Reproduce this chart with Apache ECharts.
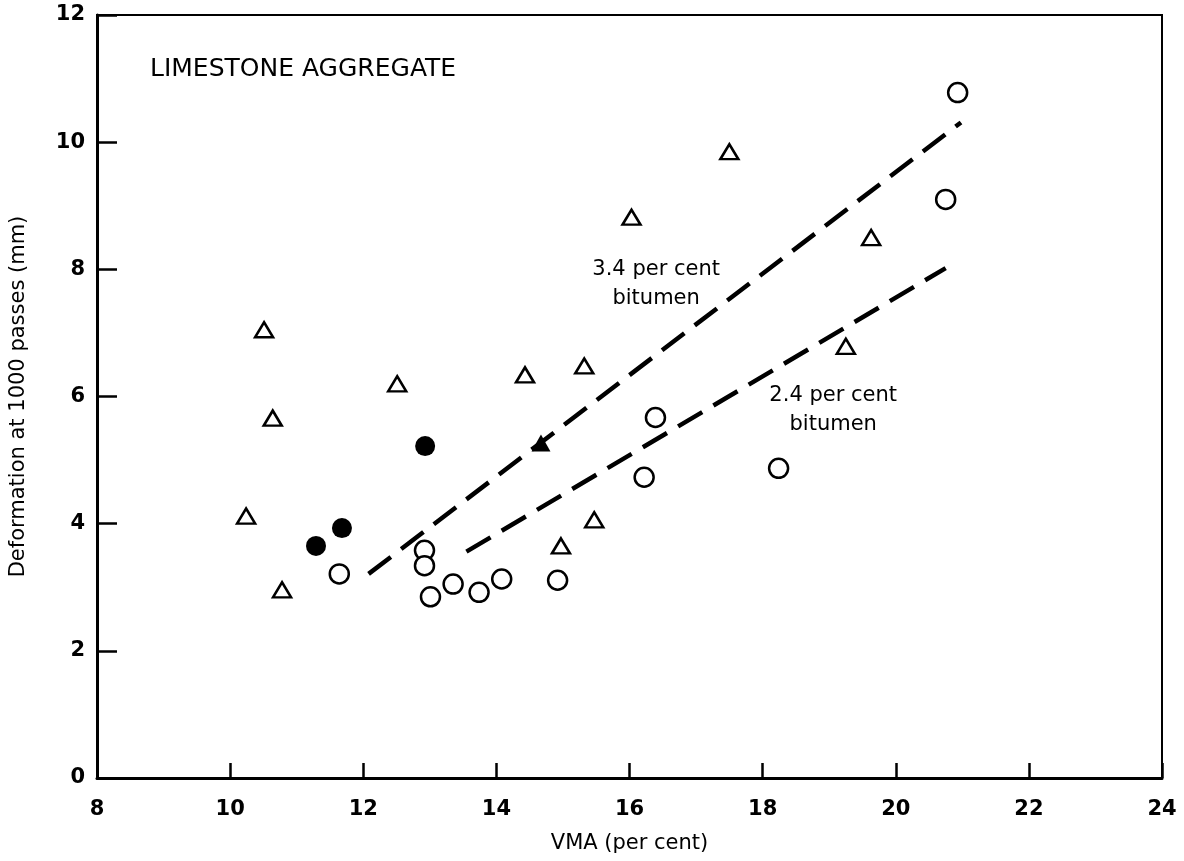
<!DOCTYPE html>
<html>
<head>
<meta charset="utf-8">
<title>Limestone aggregate</title>
<script src="https://cdn.jsdelivr.net/npm/echarts@6/dist/echarts.min.js"></script>
<style>
    html, body { margin: 0; padding: 0; background: #fff; }
    #chart { width: 1184px; height: 861px; }
</style>
</head>
<body>
<div id="chart"></div>
<script>
// VMA (per cent) vs deformation at 1000 passes (mm)
const openTriangles = [
    [10.51, 7.05], [12.51, 6.20], [10.64, 5.66], [10.24, 4.12], [10.78, 2.96],
    [14.43, 6.34], [15.32, 6.48], [15.47, 4.06], [14.97, 3.65], [17.50, 9.85],
    [16.03, 8.82], [19.63, 8.50], [19.25, 6.79]
];
const filledTriangles = [[14.67, 5.27]];
const filledCircles = [[12.93, 5.22], [11.68, 3.93], [11.29, 3.65]];
const openCircles = [
    [11.64, 3.21], [12.92, 3.58], [12.92, 3.34], [13.01, 2.85], [13.35, 3.05],
    [13.74, 2.92], [14.08, 3.13], [14.92, 3.11], [16.39, 5.67], [16.22, 4.73],
    [18.24, 4.87], [20.93, 10.78], [20.75, 9.10]
];
// fitted lines
const line34 = [[12.08, 3.21], [20.98, 10.31]];
const line24 = [[13.55, 3.56], [20.75, 8.02]];
// line labels
const noteText = ['3.4 per cent\nbitumen', '2.4 per cent\nbitumen'];
const notePos = [[16.40, 7.77], [19.06, 5.79]];

const FONT = 'DejaVu Sans';
const chart = echarts.init(document.getElementById('chart'));

const dashed = {
    width: 4.5,
    color: '#000',
    type: [28, 13],
    cap: 'butt',
    opacity: 1
};
const hollow = { color: '#fff', borderColor: '#000', borderWidth: 2.5, opacity: 1 };
const solid = { color: '#000', opacity: 1 };

chart.setOption({
    backgroundColor: '#fff',
    animation: false,
    textStyle: { fontFamily: FONT, color: '#000' },
    title: {
        text: 'LIMESTONE AGGREGATE',
        left: 150,
        top: 57,
        padding: 0,
        textStyle: { fontFamily: FONT, fontSize: 25, fontWeight: 'normal', color: '#000' }
    },
    grid: {
        left: 97, right: 22, top: 15, bottom: 83,
        show: true,
        borderColor: '#000',
        borderWidth: 2
    },
    xAxis: {
        type: 'value',
        min: 8, max: 24, interval: 2,
        name: 'VMA (per cent)',
        nameLocation: 'middle',
        nameGap: 55,
        nameTextStyle: { fontFamily: FONT, fontSize: 21, color: '#000' },
        axisLine: { lineStyle: { color: '#000', width: 3 } },
        axisTick: { inside: true, length: 15, lineStyle: { color: '#000', width: 2.5 } },
        axisLabel: { margin: 21, fontFamily: FONT, fontSize: 21, fontWeight: 'bold', color: '#000' },
        splitLine: { show: false }
    },
    yAxis: {
        type: 'value',
        min: 0, max: 12, interval: 2,
        name: 'Deformation at 1000 passes (mm)',
        nameLocation: 'middle',
        nameGap: 68,
        nameTextStyle: { fontFamily: FONT, fontSize: 21, color: '#000' },
        axisLine: { lineStyle: { color: '#000', width: 3 } },
        axisTick: { inside: true, length: 20, lineStyle: { color: '#000', width: 2.5 } },
        axisLabel: { margin: 12, fontFamily: FONT, fontSize: 21, fontWeight: 'bold', color: '#000' },
        splitLine: { show: false }
    },
    series: [
        {
            type: 'line', data: line34, showSymbol: false, symbol: 'none',
            lineStyle: dashed, z: 2
        },
        {
            type: 'line', data: line24, showSymbol: false, symbol: 'none',
            lineStyle: dashed, z: 2
        },
        {
            type: 'scatter', data: openTriangles, symbol: 'triangle', symbolSize: [18, 15],
            itemStyle: hollow, z: 3
        },
        {
            type: 'scatter', data: filledTriangles, symbol: 'triangle', symbolSize: [19, 17],
            itemStyle: solid, z: 3
        },
        {
            type: 'scatter', data: openCircles, symbol: 'circle', symbolSize: 19,
            itemStyle: hollow, z: 3
        },
        {
            type: 'scatter', data: filledCircles, symbol: 'circle', symbolSize: 20,
            itemStyle: solid, z: 3
        },
        {
            type: 'scatter',
            symbolSize: 0,
            silent: true,
            itemStyle: { opacity: 1 },
            data: notePos.map((p, i) => ({ value: p, name: noteText[i] })),
            label: {
                show: true,
                position: 'inside',
                formatter: p => p.name,
                fontFamily: FONT,
                fontSize: 21,
                lineHeight: 29,
                align: 'center',
                color: '#000',
                opacity: 1
            },
            z: 4
        }
    ]
});
</script>
</body>
</html>
